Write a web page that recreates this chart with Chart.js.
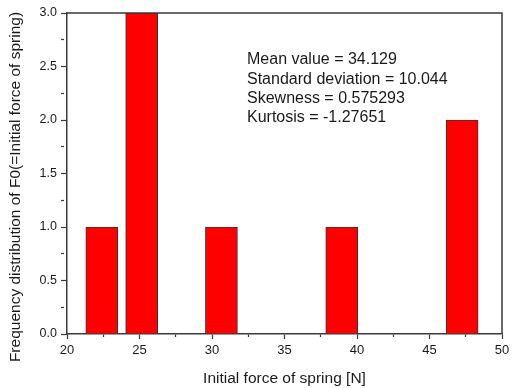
<!DOCTYPE html>
<html>
<head>
<meta charset="utf-8">
<script src="https://cdn.jsdelivr.net/npm/chart.js@4"></script>
<style>
  html, body { margin: 0; padding: 0; background: #fff; }
  #wrap { width: 514px; height: 388px; }
</style>
</head>
<body>
<div id="wrap"><canvas id="c" width="514" height="388"></canvas></div>
<script>
// Histogram of the initial spring force F0
const binCenters = [22.4, 25.15, 30.65, 38.95, 47.25];   // N
const frequencies = [1, 3, 1, 1, 2];
const xTickRange = [20, 50];
const yTickRange = [0, 3];
const statsLines = [
  'Mean value = 34.129',
  'Standard deviation = 10.044',
  'Skewness = 0.575293',
  'Kurtosis = -1.27651'
];
const xTitle = 'Initial force of spring [N]';
const yTitle = 'Frequency distribution of F0(=Initial force of spring)';

const FONT = "'Liberation Sans', Arial, sans-serif";
const AXIS = '#3a3a3a';

const isMinor = (v, step) => Math.abs(v / step - Math.round(v / step)) > 1e-6;
const minorDash = (step, dash) => ctx =>
  (ctx && ctx.tick && isMinor(ctx.tick.value, step)) ? dash : [];

// Frame on top/right, rotated y title and the statistics block
const decorations = {
  id: 'decorations',
  afterDraw(chart) {
    const { ctx, chartArea: a } = chart;
    ctx.save();
    ctx.strokeStyle = AXIS;
    ctx.lineWidth = 1.5;
    ctx.beginPath();
    ctx.moveTo(a.left, a.top);
    ctx.lineTo(a.right, a.top);
    ctx.lineTo(a.right, a.bottom);
    ctx.stroke();

    ctx.fillStyle = '#1a1a1a';
    ctx.font = '16px ' + FONT;
    ctx.textAlign = 'left';
    ctx.textBaseline = 'middle';
    statsLines.forEach((t, i) => ctx.fillText(t, 247, 60 + i * 19.3));

    ctx.translate(16, 187);
    ctx.rotate(-Math.PI / 2);
    ctx.textAlign = 'center';
    ctx.font = '15.5px ' + FONT;
    ctx.fillText(yTitle, 0, 0);
    ctx.restore();
  }
};

new Chart(document.getElementById('c'), {
  type: 'bar',
  data: {
    datasets: [{
      data: binCenters.map((x, i) => ({ x, y: frequencies[i] })),
      backgroundColor: '#ff0000',
      borderColor: '#333333',
      borderWidth: 1,
      borderSkipped: 'bottom',
      barThickness: 32
    }]
  },
  options: {
    responsive: false,
    animation: false,
    layout: { padding: { left: 0, right: 12, top: 13, bottom: 0 } },
    plugins: { legend: { display: false }, tooltip: { enabled: false } },
    scales: {
      x: {
        type: 'linear',
        offset: false,
        min: xTickRange[0],
        max: xTickRange[1],
        afterFit(s) { s.height = 54; },
        border: { display: true, color: AXIS, width: 1.5 },
        grid: {
          offset: false,
          drawOnChartArea: false,
          drawTicks: true,
          tickLength: 5,
          tickColor: AXIS,
          tickWidth: 1.2,
          tickBorderDash: minorDash(5, [2.5, 20])
        },
        ticks: {
          stepSize: 2.5,
          autoSkip: false,
          maxRotation: 0,
          padding: 4,
          color: '#1a1a1a',
          font: { family: FONT, size: 13 },
          callback: v => isMinor(v, 5) ? '' : String(v)
        },
        title: {
          display: true,
          text: xTitle,
          color: '#1a1a1a',
          font: { family: FONT, size: 15.5 },
          padding: { top: 5, bottom: 0 }
        }
      },
      y: {
        type: 'linear',
        min: yTickRange[0],
        max: yTickRange[1],
        afterFit(s) { s.width = 67; },
        border: { display: true, color: AXIS, width: 1.5 },
        grid: {
          drawOnChartArea: false,
          drawTicks: true,
          tickLength: 6,
          tickColor: AXIS,
          tickWidth: 1.2,
          tickBorderDash: minorDash(0.5, [3, 20])
        },
        ticks: {
          stepSize: 0.25,
          autoSkip: false,
          padding: 4,
          color: '#1a1a1a',
          font: { family: FONT, size: 12.5 },
          callback: v => isMinor(v, 0.5) ? '' : v.toFixed(1)
        }
      }
    }
  },
  plugins: [decorations]
});
</script>
</body>
</html>
